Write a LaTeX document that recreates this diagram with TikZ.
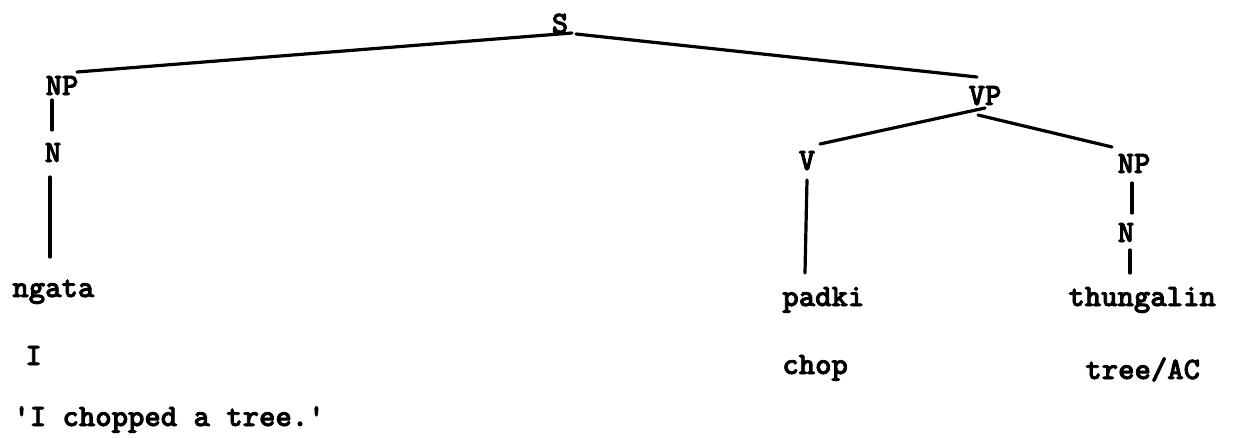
\documentclass[tikz,border=0pt]{standalone}
\usepackage{fontspec}
\newfontfamily\tw{lmmonolt10-bold}[Extension=.otf, FakeBold=2.5]
\tikzset{
  lbl/.style={inner sep=0pt, font=\tw\fontsize{15.6pt}{18pt}\selectfont, anchor=base},
  word/.style={lbl, anchor=base west},
  edge/.style={line width=1.6pt, line cap=round}
}
\begin{document}
\begin{tikzpicture}[x=0.5pt,y=-0.5pt]
\useasboundingbox[fill=white] (0,0) rectangle (1233,440);
% labels
\node[lbl] (S) at (560,33) {S};
\node[lbl] (NPa) at (62,95) {NP};
\node[lbl] (Na) at (53,162) {N};
\node[word] (ngata) at (12,297) {ngata};
\node[word] (gI) at (25,365) {I};
\node[word] (trans) at (13,426) {'I chopped a tree.'};
\node[lbl] (VP) at (985,105) {VP};
\node[lbl] (V) at (807,170) {V};
\node[lbl] (NPb) at (1134,173) {NP};
\node[lbl] (Nb) at (1126,242) {N};
\node[word] (padki) at (782,306) {padki};
\node[word] (chop) at (782,374) {chop};
\node[word] (thung) at (1068,306) {thungalin};
\node[word] (tree) at (1085,379) {tree/AC};
% connectors
\draw[edge] ([shift={(12,0)}]S.base) -- ([shift={(15,-23)}]NPa.base);
\draw[edge] ([shift={(16,1)}]S.base) -- ([shift={(-8,-28)}]VP.base);
\draw[edge] ([shift={(-10,5)}]NPa.base) -- ([shift={(-1,-32)}]Na.base);
\draw[edge] ([shift={(-3,15)}]Na.base) -- ([shift={(38,-40)}]ngata.base west);
\draw[edge] ([shift={(0,3)}]VP.base) -- ([shift={(13,-26)}]V.base);
\draw[edge] ([shift={(-7,10)}]VP.base) -- ([shift={(-22,-26)}]NPb.base);
\draw[edge] ([shift={(0,10)}]V.base) -- ([shift={(23,-33)}]padki.base west);
\draw[edge] ([shift={(-2,10)}]NPb.base) -- ([shift={(6,-29)}]Nb.base);
\draw[edge] ([shift={(4,8)}]Nb.base) -- ([shift={(62,-33)}]thung.base west);
\end{tikzpicture}
\end{document}
